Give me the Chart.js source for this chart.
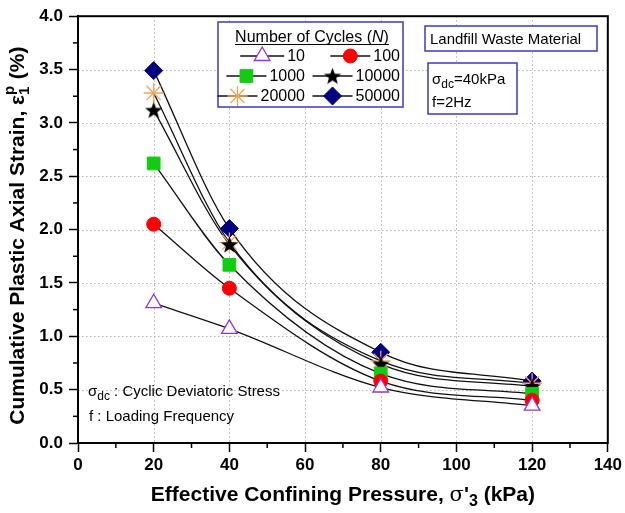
<!DOCTYPE html>
<html>
<head>
<meta charset="utf-8">
<script src="https://cdn.jsdelivr.net/npm/chart.js@4.4.1/dist/chart.umd.min.js"></script>
<style>
  html, body { margin: 0; padding: 0; background: #fff; }
  #wrap { width: 625px; height: 513px; position: relative; }
</style>
</head>
<body>
<div id="wrap"><canvas id="strainChart"></canvas></div>
<script>
// Data
const pressures = [20, 40, 80, 120];           // effective confining pressure (kPa)
const cycles10 = [1.31, 1.07, 0.52, 0.35];
const cycles100 = [2.05, 1.45, 0.58, 0.40];
const cycles1000 = [2.62, 1.67, 0.65, 0.46];
const cycles10000 = [3.12, 1.86, 0.74, 0.53];
const cycles20000 = [3.28, 1.88, 0.77, 0.56];
const cycles50000 = [3.49, 2.01, 0.85, 0.58];
const cycleLabels = ['10', '100', '1000', '10000', '20000', '50000'];
const xTicks = [0, 20, 40, 60, 80, 100, 120, 140];
const yTicks = [0, 0.5, 1.0, 1.5, 2.0, 2.5, 3.0, 3.5, 4.0];

const FONT = '"Liberation Sans", Arial, sans-serif';
const BOX_BLUE = '#3b3bc0';

// filled black star used for N = 10000
function makeStar(size, color) {
    const c = document.createElement('canvas');
    c.width = size; c.height = size;
    const g = c.getContext('2d');
    const cx = size / 2, cy = size / 2 + 0.8, ro = size / 2 - 0.5, ri = ro * 0.42;
    g.beginPath();
    for (let i = 0; i < 10; i++) {
        const r = i % 2 === 0 ? ro : ri;
        const a = -Math.PI / 2 + i * Math.PI / 5;
        g.lineTo(cx + r * Math.cos(a), cy + r * Math.sin(a));
    }
    g.closePath();
    g.fillStyle = color;
    g.fill();
    return c;
}
const starImg = makeStar(19, '#000');

// marker styles for each series
const markers = [
    { style: 'triangle', radius: 9, fill: '#ffffff', stroke: '#9933cc', width: 1.3 },
    { style: 'circle', radius: 7, fill: '#ff0000', stroke: '#ff0000', width: 1 },
    { style: 'rect', radius: 9, fill: '#11cc11', stroke: '#11cc11', width: 1 },
    { style: starImg, radius: 9, fill: '#000', stroke: '#000', width: 1 },
    { style: 'star', radius: 10, fill: '#f5a35a', stroke: '#f5a35a', width: 1.3 },
    { style: 'rectRot', radius: 9, fill: '#000080', stroke: '#000080', width: 1 }
];
const seriesValues = [cycles10, cycles100, cycles1000, cycles10000, cycles20000, cycles50000];

function toPoints(values) {
    return pressures.map((p, i) => ({ x: p, y: values[i] }));
}

const datasets = [];
// markers (drawn on top)
seriesValues.forEach((vals, i) => {
    const m = markers[i];
    datasets.push({
        label: cycleLabels[i],
        data: toPoints(vals),
        showLine: false,
        pointStyle: m.style,
        pointRadius: m.radius,
        pointBackgroundColor: m.fill,
        pointBorderColor: m.stroke,
        pointBorderWidth: m.width,
        order: 1
    });
});
// smooth black fitting curves
seriesValues.forEach((vals, i) => {
    datasets.push({
        label: 'fit ' + cycleLabels[i],
        data: toPoints(vals),
        showLine: true,
        borderColor: '#111',
        borderWidth: 1.3,
        pointRadius: 0,
        cubicInterpolationMode: 'monotone',
        fill: false,
        order: 2
    });
});

// draw a marker in the legend
function legendMarker(ctx, m, x, y) {
    ctx.save();
    ctx.fillStyle = m.fill;
    ctx.strokeStyle = m.stroke;
    ctx.lineWidth = m.width;
    Chart.helpers.drawPoint(ctx, { pointStyle: m.style, radius: m.radius, rotation: 0, borderWidth: m.width }, x, y);
    ctx.restore();
}

function textWithSub(ctx, parts, x, y) {
    // parts: [text, font, dy]
    let cx = x;
    parts.forEach(p => {
        ctx.font = p[1];
        ctx.fillText(p[0], cx, y + (p[2] || 0));
        cx += ctx.measureText(p[0]).width;
    });
    return cx;
}

function partsWidth(ctx, parts) {
    let w = 0;
    parts.forEach(p => { ctx.font = p[1]; w += ctx.measureText(p[0]).width; });
    return w;
}

const decorPlugin = {
    id: 'decor',
    beforeDatasetsDraw(chart) {
        const { ctx, chartArea: a, scales: { x, y } } = chart;
        ctx.save();
        ctx.strokeStyle = '#b4b4b4';
        ctx.lineWidth = 1;
        ctx.setLineDash([1.5, 2.5]);
        xTicks.forEach(v => {
            if (v === 0 || v === 140) return;
            const px = Math.round(x.getPixelForValue(v)) + 0.5;
            ctx.beginPath(); ctx.moveTo(px, a.top); ctx.lineTo(px, a.bottom); ctx.stroke();
        });
        yTicks.forEach(v => {
            if (v === 0 || v === 4) return;
            const py = Math.round(y.getPixelForValue(v)) + 0.5;
            ctx.beginPath(); ctx.moveTo(a.left, py); ctx.lineTo(a.right, py); ctx.stroke();
        });
        ctx.restore();
    },
    afterDraw(chart) {
        const { ctx, chartArea: a, scales: { x, y } } = chart;
        ctx.save();

        // frame
        ctx.strokeStyle = '#000';
        ctx.lineWidth = 2;
        ctx.strokeRect(a.left, a.top, a.right - a.left, a.bottom - a.top);

        // minor ticks
        ctx.lineWidth = 1.5;
        for (let v = 10; v < 140; v += 20) {
            const px = x.getPixelForValue(v);
            ctx.beginPath(); ctx.moveTo(px, a.bottom); ctx.lineTo(px, a.bottom + 5); ctx.stroke();
        }
        for (let v = 0.25; v < 4; v += 0.5) {
            const py = y.getPixelForValue(v);
            ctx.beginPath(); ctx.moveTo(a.left, py); ctx.lineTo(a.left - 5, py); ctx.stroke();
        }

        // legend box
        ctx.fillStyle = '#fff';
        ctx.fillRect(218, 22, 185, 85);
        ctx.strokeStyle = BOX_BLUE;
        ctx.lineWidth = 1.5;
        ctx.strokeRect(218, 22, 185, 85);
        ctx.fillStyle = '#000';
        ctx.textBaseline = 'alphabetic';
        const title = [['Number of Cycles (', '16px ' + FONT], ['N', 'italic 16px ' + FONT], [')', '16px ' + FONT]];
        const tw = partsWidth(ctx, title);
        const tx = 312 - tw / 2;
        textWithSub(ctx, title, tx, 42);
        ctx.strokeStyle = '#000';
        ctx.lineWidth = 1;
        ctx.beginPath(); ctx.moveTo(tx, 44.5); ctx.lineTo(tx + tw, 44.5); ctx.stroke();

        const rowsY = [61, 81, 101];
        const colRight = [305, 400];
        ctx.font = '16px ' + FONT;
        cycleLabels.forEach((lab, i) => {
            const row = Math.floor(i / 2), col = i % 2;
            const yy = rowsY[row];
            const textW = ctx.measureText(lab).width;
            const tX = colRight[col] - textW;
            const segEnd = tX - 3;
            const segStart = segEnd - (i === 0 ? 44 : 40);
            ctx.strokeStyle = '#111';
            ctx.lineWidth = 1.3;
            ctx.beginPath(); ctx.moveTo(segStart, yy - 5); ctx.lineTo(segEnd, yy - 5); ctx.stroke();
            legendMarker(ctx, markers[i], (segStart + segEnd) / 2, yy - 5);
            ctx.fillStyle = '#000';
            ctx.font = '16px ' + FONT;
            ctx.fillText(lab, tX, yy);
        });

        // material box
        ctx.fillStyle = '#fff';
        ctx.fillRect(425, 26, 172, 25);
        ctx.strokeStyle = BOX_BLUE;
        ctx.lineWidth = 1.5;
        ctx.strokeRect(425, 26, 172, 25);
        ctx.fillStyle = '#000';
        ctx.font = '15px ' + FONT;
        ctx.fillText('Landfill Waste Material', 430, 44);

        // loading box
        ctx.fillStyle = '#fff';
        ctx.fillRect(428, 63, 89, 51);
        ctx.strokeStyle = BOX_BLUE;
        ctx.strokeRect(428, 63, 89, 51);
        ctx.fillStyle = '#000';
        textWithSub(ctx, [['σ', '15px ' + FONT], ['dc', '12px ' + FONT, 4], ['=40kPa', '15px ' + FONT]], 432, 84);
        ctx.font = '15px ' + FONT;
        ctx.fillText('f=2Hz', 432, 107);

        // notes lower left
        textWithSub(ctx, [['σ', '15px ' + FONT], ['dc', '12px ' + FONT, 4], [' : Cyclic Deviatoric Stress', '15px ' + FONT]], 88, 396);
        ctx.font = '15px ' + FONT;
        ctx.fillText('f : Loading Frequency', 89, 421);

        // x axis title
        const xt = [['Effective Confining Pressure, ', 'bold 21px ' + FONT], ['σ', '21px "DejaVu Serif", serif'],
                    ["'", 'bold 21px ' + FONT], ['3', 'bold 16px ' + FONT, 5], [' (kPa)', 'bold 21px ' + FONT]];
        const xw = partsWidth(ctx, xt);
        textWithSub(ctx, xt, (a.left + a.right) / 2 - xw / 2, 501);

        // y axis title (rotated)
        ctx.translate(24, (a.top + a.bottom) / 2 + 6);
        ctx.rotate(-Math.PI / 2);
        const yt = [['Cumulative Plastic Axial Strain, ε', 'bold 21px ' + FONT]];
        ctx.font = 'bold 21px ' + FONT;
        const supW = 10;
        const yw = partsWidth(ctx, yt) + supW + ctx.measureText(' (%)').width;
        ctx.font = 'bold 21px ' + FONT;
        let cx = textWithSub(ctx, yt, -yw / 2, 0);
        ctx.font = 'bold 15px ' + FONT;
        ctx.fillText('1', cx, 5);
        ctx.fillText('p', cx, -10);
        ctx.font = 'bold 21px ' + FONT;
        ctx.fillText(' (%)', cx + supW, 0);

        ctx.restore();
    }
};

window.addEventListener('load', function() {
    const ctx = document.getElementById('strainChart');
    new Chart(ctx, {
        type: 'scatter',
        data: { datasets: datasets },
        options: {
            responsive: true,
            maintainAspectRatio: false,
            animation: false,
            layout: { padding: { top: 15, right: 16, left: 0, bottom: 0 } },
            plugins: {
                legend: { display: false },
                tooltip: { enabled: false }
            },
            scales: {
                x: {
                    type: 'linear',
                    min: 0,
                    max: 140,
                    afterBuildTicks: (scale) => { scale.ticks = xTicks.map(v => ({ value: v })); },
                    afterFit: (scale) => { scale.height = 70; },
                    grid: { drawOnChartArea: false, drawTicks: true, tickLength: 9, tickColor: '#000', tickWidth: 1.5 },
                    border: { display: true, color: '#000', width: 2 },
                    ticks: { color: '#000', font: { family: FONT, size: 17, weight: 'bold' }, padding: 3, maxRotation: 0 }
                },
                y: {
                    type: 'linear',
                    min: 0,
                    max: 4,
                    afterBuildTicks: (scale) => { scale.ticks = yTicks.map(v => ({ value: v })); },
                    afterFit: (scale) => { scale.width = 78; },
                    grid: { drawOnChartArea: false, drawTicks: true, tickLength: 9, tickColor: '#000', tickWidth: 1.5 },
                    border: { display: true, color: '#000', width: 2 },
                    ticks: {
                        color: '#000',
                        font: { family: FONT, size: 17, weight: 'bold' },
                        padding: 6,
                        callback: (v) => Number(v).toFixed(1)
                    }
                }
            }
        },
        plugins: [decorPlugin]
    });
});
</script>
</body>
</html>
